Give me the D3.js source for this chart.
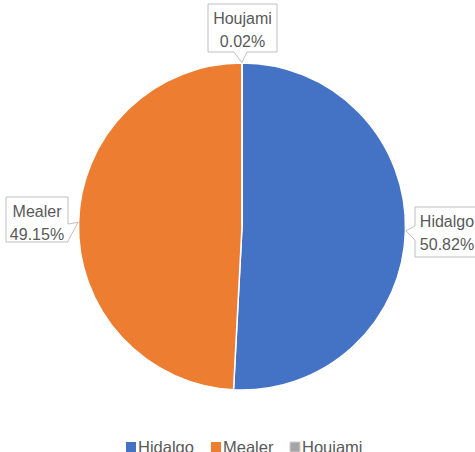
<!DOCTYPE html>
<html><head><meta charset="utf-8">
<script src="https://cdn.jsdelivr.net/npm/d3@7"></script>
<style>
html,body{margin:0;padding:0;background:#fff;overflow:hidden;}
text{font-family:"Liberation Sans",Arial,sans-serif;}
</style></head>
<body>
<svg id="chart" width="475" height="452"></svg>
<script>
const categories = ["Hidalgo", "Mealer", "Houjami"];
const values = [50.82, 49.15, 0.02];
const valueLabels = ["50.82%", "49.15%", "0.02%"];
const colors = ["#4472C4", "#ED7D31", "#A5A5A5"];

const svg = d3.select("#chart");
const cx = 242, cy = 226.5, r = 163.5;

const pie = d3.pie().sort(null).value(d => d)(values);
const arc = d3.arc().innerRadius(0).outerRadius(r);
const g = svg.append("g").attr("transform", `translate(${cx},${cy})`);
g.selectAll("path").data(pie).join("path")
  .attr("d", arc)
  .attr("fill", (d, i) => colors[i])
  .attr("stroke", "#fff").attr("stroke-width", 1.5);

// callouts: box geometry (layout only)
const boxes = [
  {x: 415, y: 207, w: 64, h: 50, side: "left", b0: 226, b1: 240},
  {x: 6, y: 197, w: 62, h: 45, side: "right", b0: 224, b1: 241},
  {x: 208, y: 4, w: 69, h: 48, side: "bottom", b0: 234, b1: 247}
];
pie.forEach((d, i) => {
  const b = boxes[i];
  const a = (d.startAngle + d.endAngle) / 2;
  const tx = cx + (r + 0.5) * Math.sin(a), ty = cy - (r + 0.5) * Math.cos(a);
  const p = d3.path();
  const x0 = b.x, x1 = b.x + b.w, y0 = b.y, y1 = b.y + b.h;
  if (b.side === "left") {
    p.moveTo(x0, y0); p.lineTo(x1, y0); p.lineTo(x1, y1); p.lineTo(x0, y1);
    p.lineTo(x0, b.b1); p.lineTo(tx, ty); p.lineTo(x0, b.b0); p.closePath();
  } else if (b.side === "right") {
    p.moveTo(x0, y0); p.lineTo(x1, y0); p.lineTo(x1, b.b0); p.lineTo(tx, ty);
    p.lineTo(x1, b.b1); p.lineTo(x1, y1); p.lineTo(x0, y1); p.closePath();
  } else {
    p.moveTo(x0, y0); p.lineTo(x1, y0); p.lineTo(x1, y1); p.lineTo(b.b1, y1);
    p.lineTo(tx, ty); p.lineTo(b.b0, y1); p.lineTo(x0, y1); p.closePath();
  }
  svg.append("path").attr("d", p.toString())
    .attr("fill", "#fff").attr("stroke", "#BFBFBF").attr("stroke-width", 1);
  const t = svg.append("text").attr("fill", "#595959").attr("font-size", "16px")
    .attr("text-anchor", "middle");
  const mx = x0 + b.w / 2;
  t.append("tspan").attr("x", mx).attr("y", y0 + 20).text(categories[i]);
  t.append("tspan").attr("x", mx).attr("y", y0 + 43).text(valueLabels[i]);
});

// legend
const legX = [126, 211, 290];
const lg = svg.append("g");
categories.forEach((c, i) => {
  lg.append("rect").attr("x", legX[i]).attr("y", 442).attr("width", 10).attr("height", 10)
    .attr("fill", colors[i]).attr("stroke", i === 2 ? "#D0D0D0" : "none");
  lg.append("text").attr("x", legX[i] + 12).attr("y", 453)
    .attr("fill", "#595959").attr("font-size", "16.5px").text(c);
});
</script>
</body></html>
